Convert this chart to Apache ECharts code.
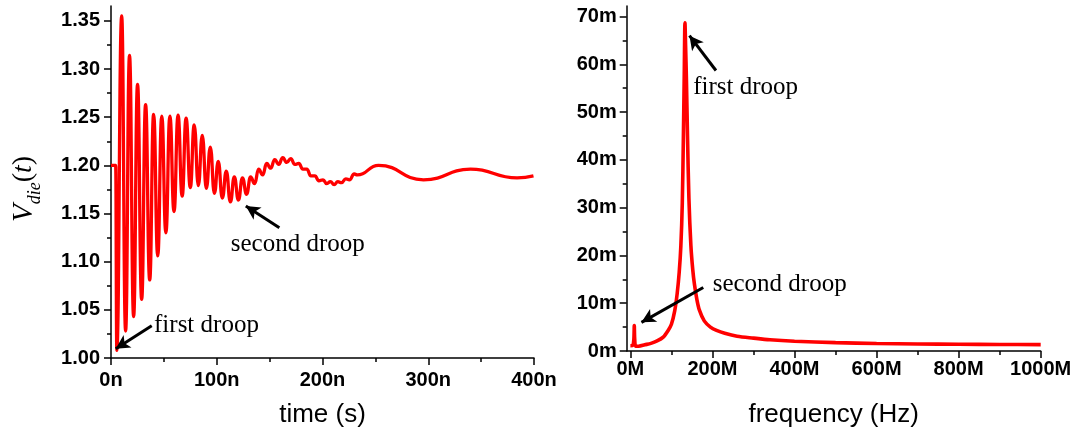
<!DOCTYPE html>
<html>
<head>
<meta charset="utf-8">
<script src="https://cdn.jsdelivr.net/npm/echarts@6/dist/echarts.min.js"></script>
<style>
html, body { margin: 0; padding: 0; background: #fff; }
#chart { width: 1078px; height: 433px; }
</style>
</head>
<body>
<div id="chart"></div>
<script>
// On-die supply voltage after a load step: turning points of the waveform (ns, V)
const timeNs = [
  0, 4.4, 5.5, 10.1, 13.8, 17.5, 21.4, 25.1, 29.0, 32.7,
  36.6, 40.3, 44.2, 48.0, 51.9, 55.7, 59.6, 63.4, 67.3, 71.0,
  75.0, 78.7, 82.6, 86.3, 90.2, 93.9, 97.8, 101.4, 105.3, 109.0,
  112.9, 116.6, 120.5, 124.3, 128.2, 132.0, 135.8, 139.6, 143.4, 147.2,
  151.0, 154.8, 158.6, 162.4, 166.2, 170.0, 173.8, 177.6, 181.4, 185.2,
  189.0, 192.8, 196.6, 200.5, 204.0, 207.5, 211.0, 214.5, 218.0, 222.0,
  225.5, 230.0, 233.0, 253.0, 295.5, 340.0, 384.0, 399.5
];
const vDie = [
  1.200, 1.200, 1.008, 1.355, 1.028, 1.314, 1.043, 1.284, 1.061, 1.263,
  1.081, 1.253, 1.106, 1.251, 1.130, 1.251, 1.152, 1.252, 1.168, 1.249,
  1.177, 1.242, 1.179, 1.231, 1.176, 1.219, 1.171, 1.204, 1.166, 1.194,
  1.162, 1.188, 1.164, 1.187, 1.170, 1.188, 1.181, 1.196, 1.190, 1.202,
  1.197, 1.206, 1.201, 1.208, 1.203, 1.207, 1.201, 1.202, 1.196, 1.196,
  1.189, 1.189, 1.184, 1.185, 1.181, 1.183, 1.180, 1.183, 1.182, 1.186,
  1.185, 1.191, 1.190, 1.2, 1.185, 1.196, 1.187, 1.189
];

// Magnitude spectrum of the same waveform (MHz, m-units)
const freqM = [
  0, 6, 8.5, 9.5, 10.5, 13, 20, 35, 50, 65,
  80, 92, 100, 108, 114, 119, 123, 126.5, 129, 131.3,
  133, 134.5, 136.5, 139.2, 142.6, 147.5, 152, 156, 162, 168,
  180, 195, 210, 230, 260, 300, 340, 400, 500, 600,
  700, 800, 900, 1000
];
const magM = [
  1.1, 1.2, 2.5, 5.3, 2.5, 1.0, 1.0, 1.3, 1.6, 2.1,
  2.9, 4.3, 5.6, 8.4, 12, 16.5, 22, 31, 44, 58,
  68.7, 64, 57, 45, 32, 22, 17, 14, 10.8, 8.6,
  6.3, 5.0, 4.3, 3.7, 3.1, 2.7, 2.35, 2.05, 1.75, 1.58,
  1.48, 1.42, 1.37, 1.34
];

// Tick positions
const timeTicks = [0, 100, 200, 300, 400];
const timeMinorTicks = [50, 150, 250, 350];
const voltTicks = [1.00, 1.05, 1.10, 1.15, 1.20, 1.25, 1.30, 1.35];
const voltMinorTicks = [1.025, 1.075, 1.125, 1.175, 1.225, 1.275, 1.325];
const freqTicks = [0, 200, 400, 600, 800, 1000];
const freqMinorTicks = [100, 300, 500, 700, 900];
const magTicks = [0, 10, 20, 30, 40, 50, 60, 70];
const magMinorTicks = [5, 15, 25, 35, 45, 55, 65];

const zip = (a, b) => a.map((x, i) => [x, b[i]]);

const BLACK = '#000';
const RED = '#ff0000';
const tickFont = { fontFamily: 'Liberation Sans', fontWeight: 'bold', fontSize: 20, color: BLACK };
const serif = 'Liberation Serif';

function majorAxis(extra) {
  return Object.assign({
    type: 'value',
    offset: 0,
    axisLine: { show: true, onZero: false, lineStyle: { color: BLACK, width: 1.5 } },
    splitLine: { show: false },
    minorTick: { show: false }
  }, extra);
}
function minorAxis(extra) {
  return Object.assign({
    type: 'value',
    offset: 0,
    axisLine: { show: false, onZero: false },
    axisLabel: { show: false },
    splitLine: { show: false }
  }, extra);
}
const majorTick = values => ({ show: true, inside: false, length: 7, customValues: values, lineStyle: { color: BLACK, width: 1.5 } });
const minorTickAt = values => ({ show: true, inside: false, length: 4, customValues: values, lineStyle: { color: BLACK, width: 1.5 } });

const annotationLabel = {
  show: true, position: 'right', distance: 0, formatter: '{b}',
  fontFamily: serif, fontSize: 25, color: BLACK
};
const arrowStyle = {
  silent: true,
  symbol: ['none', 'arrow'],
  symbolSize: [11, 14],
  lineStyle: { color: BLACK, width: 3, type: 'solid' },
  label: { show: false },
  emphasis: { disabled: true },
  animation: false
};
const nameFont = { fontFamily: 'Liberation Sans', fontSize: 26, color: BLACK, lineHeight: 26 };

const option = {
  animation: false,
  backgroundColor: '#fff',
  grid: [
    { left: 111, top: 6, width: 423, height: 353 },
    { left: 626.7, top: 6, width: 414, height: 346 }
  ],
  xAxis: [
    majorAxis({
      gridIndex: 0, position: 'bottom', min: 0, max: 400,
      axisTick: majorTick(timeTicks),
      axisLabel: Object.assign({ margin: 12, customValues: timeTicks, formatter: v => v + 'n' }, tickFont),
      name: 'time (s)', nameLocation: 'middle', nameGap: 44, nameTextStyle: nameFont
    }),
    minorAxis({ gridIndex: 0, position: 'bottom', min: 0, max: 400, axisTick: minorTickAt(timeMinorTicks) }),
    majorAxis({
      gridIndex: 1, position: 'bottom', min: -9, max: 1000,
      axisTick: majorTick(freqTicks),
      axisLabel: Object.assign({ margin: 8, customValues: freqTicks, formatter: v => v + 'M' }, tickFont),
      name: 'frequency (Hz)', nameLocation: 'middle', nameGap: 51, nameTextStyle: nameFont
    }),
    minorAxis({ gridIndex: 1, position: 'bottom', min: -9, max: 1000, axisTick: minorTickAt(freqMinorTicks) })
  ],
  yAxis: [
    majorAxis({
      gridIndex: 0, position: 'left', min: 1.0, max: 1.3654,
      axisTick: majorTick(voltTicks),
      axisLabel: Object.assign({ margin: 11, customValues: voltTicks, formatter: v => v.toFixed(2) }, tickFont),
      name: '{v|V}{s|die}{p|(}{t|t}{q|)}',
      nameLocation: 'middle', nameRotate: 90, nameGap: 67,
      nameTextStyle: {
        rich: {
          v: { fontFamily: serif, fontStyle: 'italic', fontSize: 29, color: BLACK, lineHeight: 28 },
          s: { fontFamily: serif, fontStyle: 'italic', fontSize: 18, color: BLACK, lineHeight: 40, verticalAlign: 'bottom' },
          p: { fontFamily: serif, fontSize: 28, color: BLACK, lineHeight: 28 },
          t: { fontFamily: serif, fontStyle: 'italic', fontSize: 28, color: BLACK, lineHeight: 28 },
          q: { fontFamily: serif, fontSize: 28, color: BLACK, lineHeight: 28, padding: [0, 14, 0, 0] }
        }
      }
    }),
    minorAxis({ gridIndex: 0, position: 'left', min: 1.0, max: 1.3654, axisTick: minorTickAt(voltMinorTicks) }),
    majorAxis({
      gridIndex: 1, position: 'left', min: 0, max: 72.2,
      axisTick: majorTick(magTicks),
      axisLabel: Object.assign({ margin: 10, customValues: magTicks, formatter: v => v + 'm' }, tickFont)
    }),
    minorAxis({ gridIndex: 1, position: 'left', min: 0, max: 72.2, axisTick: minorTickAt(magMinorTicks) })
  ],
  series: [
    {
      type: 'line', xAxisIndex: 0, yAxisIndex: 0,
      data: zip(timeNs, vDie),
      showSymbol: false, clip: false,
      smooth: 0.5, smoothMonotone: 'x',
      lineStyle: { color: RED, width: 3.3 },
      emphasis: { disabled: true },
      markLine: Object.assign({}, arrowStyle, {
        data: [
          [{ coord: [38.5, 1.0334] }, { coord: [4.5, 1.0095] }],
          [{ coord: [159.2, 1.1353] }, { coord: [127.5, 1.1578] }]
        ]
      }),
      markPoint: {
        symbol: 'circle', symbolSize: 0, silent: true,
        label: annotationLabel,
        data: [
          { name: 'first droop', coord: [40.7, 1.0342] },
          { name: 'second droop', coord: [113.2, 1.118] }
        ]
      }
    },
    {
      type: 'line', xAxisIndex: 2, yAxisIndex: 2,
      data: zip(freqM, magM),
      showSymbol: false, clip: false,
      smooth: 0.3,
      lineStyle: { color: RED, width: 3.6 },
      emphasis: { disabled: true },
      markLine: Object.assign({}, arrowStyle, {
        data: [
          [{ coord: [208.5, 58.7] }, { coord: [144, 66.0] }],
          [{ coord: [177.6, 13.3] }, { coord: [27, 6.0] }]
        ]
      }),
      markPoint: {
        symbol: 'circle', symbolSize: 0, silent: true,
        label: annotationLabel,
        data: [
          { name: 'first droop', coord: [153.2, 55.1] },
          { name: 'second droop', coord: [200.5, 14.0] }
        ]
      }
    }
  ]
};

const chart = echarts.init(document.getElementById('chart'), null, { renderer: 'canvas' });
chart.setOption(option);
</script>
</body>
</html>
